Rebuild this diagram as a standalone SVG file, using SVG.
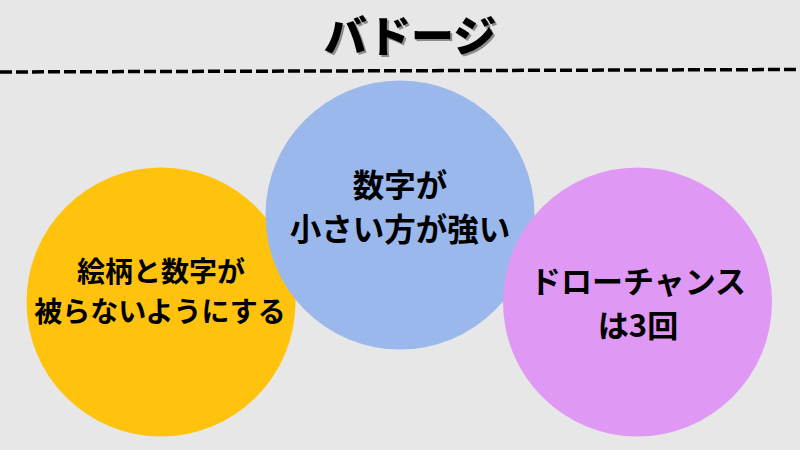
<svg xmlns="http://www.w3.org/2000/svg" width="800" height="450" viewBox="0 0 800 450">
<style>
text{font-family:"Noto Sans CJK JP","Noto Sans",sans-serif;font-weight:700;fill:#000;text-anchor:middle}
.a{font-size:31.500px}
.b{font-size:28px}
.c{font-size:31px}
.t{font-size:43px;font-weight:900;filter:drop-shadow(2px 2px 0 #8c8c8c)}
</style>
<rect width="800" height="450" fill="#e7e7e7"/>
<g id="title">
<text class="t" x="410" y="52">バドージ</text>
</g>
<g id="connectors">
<line x1="0" y1="72" x2="800" y2="69.500" stroke="#000" stroke-width="3.500" stroke-dasharray="12 4"/>
</g>
<g id="node-yellow">
<circle cx="161" cy="302" r="134.500" fill="#ffc30d"/>
<text class="b" x="161" y="282">絵柄と数字が</text>
<text class="b" x="160" y="322">被らないようにする</text>
</g>
<g id="node-blue">
<circle cx="400" cy="215" r="134.500" fill="#9ab8ec"/>
<text class="a" x="400" y="197">数字が</text>
<text class="a" x="400" y="241">小さい方が強い</text>
</g>
<g id="node-purple">
<circle cx="637.500" cy="302" r="134.500" fill="#df98f3"/>
<text class="c" x="638" y="293">ドローチャンス</text>
<text class="c" x="638" y="337">は3回</text>
</g>
</svg>
